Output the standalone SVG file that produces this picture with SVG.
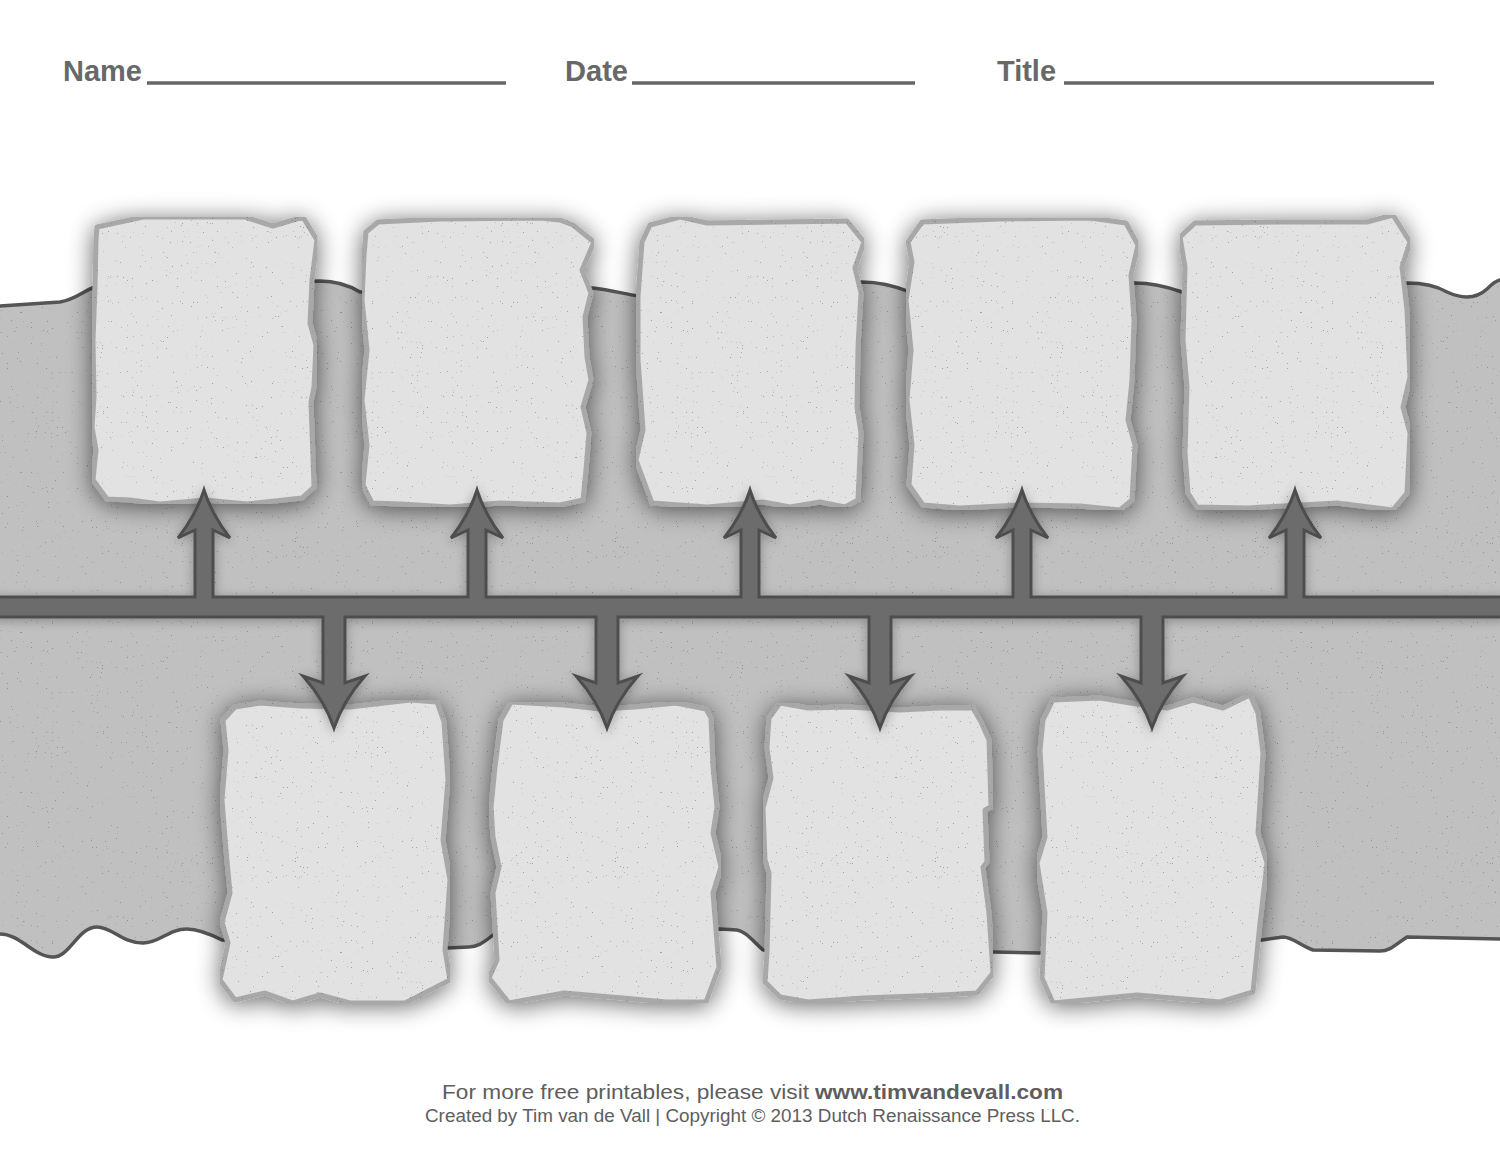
<svg xmlns="http://www.w3.org/2000/svg" width="1500" height="1159" viewBox="0 0 1500 1159">
<style>
.hdr{font-family:"Liberation Sans",Arial,sans-serif;font-weight:bold;font-size:30px;fill:#686868}
.uline{stroke:#666;stroke-width:3.5;fill:none}
.band{fill:#c0c0c0}
.edge{fill:none;stroke:#555;stroke-width:3.5;stroke-linecap:round;stroke-linejoin:round}
.card{fill:#e2e2e2;stroke:#a8a8a8;stroke-width:5;stroke-linejoin:round}
.conn{fill:#6c6c6c;stroke:#4e4e4e;stroke-width:3;stroke-linejoin:miter}
.foot{font-family:"Liberation Sans",Arial,sans-serif;fill:#5e5e5e}
</style>
<defs>
<filter id="shadow" x="-20%" y="-20%" width="140%" height="140%">
<feGaussianBlur in="SourceAlpha" stdDeviation="12"/>
<feOffset dy="3"/>
<feComponentTransfer><feFuncA type="linear" slope="0.6"/></feComponentTransfer>
<feMerge><feMergeNode/><feMergeNode in="SourceGraphic"/></feMerge>
</filter>
<filter id="cshadow" x="-10%" y="-20%" width="120%" height="140%">
<feGaussianBlur in="SourceAlpha" stdDeviation="6"/>
<feOffset dy="2"/>
<feComponentTransfer><feFuncA type="linear" slope="0.3"/></feComponentTransfer>
<feMerge><feMergeNode/><feMergeNode in="SourceGraphic"/></feMerge>
</filter>
<filter id="grain" x="0" y="0" width="100%" height="100%" color-interpolation-filters="sRGB">
<feTurbulence type="fractalNoise" baseFrequency="0.8" numOctaves="2" seed="7" result="noise"/>
<feColorMatrix in="noise" type="matrix" values="0 0 0 0 0.35  0 0 0 0 0.35  0 0 0 0 0.35  -14 0 0 0 3.6" result="dots"/>
<feComponentTransfer in="dots" result="soft"><feFuncA type="linear" slope="0.45"/></feComponentTransfer>
<feComposite in="soft" in2="SourceAlpha" operator="in" result="dotsIn"/>
<feMerge><feMergeNode in="SourceGraphic"/><feMergeNode in="dotsIn"/></feMerge>
</filter>
</defs>

<rect width="1500" height="1159" fill="#ffffff"/>

<g id="header">
<text class="hdr" x="63" y="81" textLength="79" lengthAdjust="spacingAndGlyphs">Name</text>
<line class="uline" x1="147" y1="83" x2="506" y2="83"/>
<text class="hdr" x="565" y="81" textLength="63" lengthAdjust="spacingAndGlyphs">Date</text>
<line class="uline" x1="632" y1="83" x2="915" y2="83"/>
<text class="hdr" x="997" y="81" textLength="59" lengthAdjust="spacingAndGlyphs">Title</text>
<line class="uline" x1="1064" y1="83" x2="1434" y2="83"/>
</g>

<g id="band">
<path class="band" filter="url(#grain)" d="M0,306 L60,302 C75,300 85,290 95,287 L320,281 C330,281 345,283 360,292 L593,288 C610,290 625,294 638,296 L862,282 C880,282 895,286 910,292 L1135,283 C1150,283 1165,286 1182,292 L1407,283 C1420,283 1435,285 1447,292 C1460,298 1475,300 1487,289 C1492,284 1496,281 1500,280 L1500,939 L1453,938 L1407,937 C1395,945 1390,951 1380,951 L1313,950 C1300,945 1292,937 1283,937 L1262,940 L1040,953 L993,952 L763,950 C752,940 745,931 737,930 L721,929 L493,935 C482,944 476,947 469,947 L447,948 L222,940 C208,933 198,929 187,929 C168,929 160,943 143,943 C122,943 112,927 97,927 C78,927 70,957 53,957 C34,957 20,934 0,934 Z"/>
<path class="edge" d="M0,306 L60,302 C75,300 85,290 95,287 L320,281 C330,281 345,283 360,292 L593,288 C610,290 625,294 638,296 L862,282 C880,282 895,286 910,292 L1135,283 C1150,283 1165,286 1182,292 L1407,283 C1420,283 1435,285 1447,292 C1460,298 1475,300 1487,289 C1492,284 1496,281 1500,280"/>
<path class="edge" d="M1500,939 L1453,938 L1407,937 C1395,945 1390,951 1380,951 L1313,950 C1300,945 1292,937 1283,937 L1262,940 L1040,953 L993,952 L763,950 C752,940 745,931 737,930 L721,929 L493,935 C482,944 476,947 469,947 L447,948 L222,940 C208,933 198,929 187,929 C168,929 160,943 143,943 C122,943 112,927 97,927 C78,927 70,957 53,957 C34,957 20,934 0,934"/>
</g>

<g id="card-1" filter="url(#shadow)"><path class="card" filter="url(#grain)" d="M97,227 L143,217 L245,217 L273,226 L303,217 L317,240 L312,280 L310,323 L316,345 L314,387 L311,402 L314,487 L302,498 L247,504 L205,500 L160,504 L130,500 L107,499 L93,480 L96,450 L92,427 L94,397 L93,340 L95,287 L96,240 Z"/></g>
<g id="card-2" filter="url(#shadow)"><path class="card" filter="url(#grain)" d="M366,232 L378,222 L440,219 L540,218 L560,220 L573,225 L594,242 L582,270 L591,293 L585,317 L587,357 L591,380 L583,407 L589,433 L586,470 L583,500 L560,505 L500,503 L450,507 L400,504 L372,503 L363,485 L367,445 L362,400 L367,350 L362,300 L364,255 Z"/></g>
<g id="card-3" filter="url(#shadow)"><path class="card" filter="url(#grain)" d="M650,225 L680,217 L707,223 L847,221 L864,242 L855,268 L861,293 L858,347 L857,407 L861,433 L858,500 L845,507 L820,502 L790,507 L763,502 L707,507 L652,503 L636,460 L643,430 L640,387 L638,360 L638,297 L642,242 Z"/></g>
<g id="card-4" filter="url(#shadow)"><path class="card" filter="url(#grain)" d="M908,242 L922,222 L1000,219 L1090,218 L1126,223 L1138,245 L1131,275 L1134,320 L1132,380 L1128,420 L1135,445 L1132,500 L1120,510 L1080,506 L1020,505 L960,508 L923,505 L909,485 L912,445 L907,400 L911,350 L906,300 L912,262 Z"/></g>
<g id="card-5" filter="url(#shadow)"><path class="card" filter="url(#grain)" d="M1195,223 L1280,222 L1367,222 L1393,215 L1410,242 L1402,267 L1407,310 L1410,377 L1403,407 L1410,433 L1407,493 L1393,510 L1337,503 L1247,508 L1197,507 L1188,493 L1185,453 L1187,387 L1183,340 L1185,267 L1180,237 Z"/></g>
<g id="card-6" filter="url(#shadow)"><path class="card" filter="url(#grain)" d="M223,720 L235,707 L260,703 L300,706 L350,707 L410,700 L437,702 L444,722 L448,780 L443,840 L450,880 L445,950 L450,980 L405,1003 L350,1003 L320,995 L293,1003 L265,993 L235,1000 L220,980 L228,943 L222,922 L230,893 L226,850 L222,800 L226,750 Z"/></g>
<g id="card-7" filter="url(#shadow)"><path class="card" filter="url(#grain)" d="M501,720 L511,702 L564,705 L600,709 L635,707 L676,703 L706,709 L711,718 L713,767 L717,807 L713,833 L721,867 L713,893 L719,967 L706,1002 L666,1002 L623,998 L564,993 L536,998 L509,1003 L489,978 L497,960 L493,893 L499,867 L493,837 L491,807 L495,767 Z"/></g>
<g id="card-8" filter="url(#shadow)"><path class="card" filter="url(#grain)" d="M769,718 L780,703 L808,708 L847,707 L900,710 L940,708 L973,708 L981,722 L989,740 L991,807 L985,810 L987,862 L983,867 L989,913 L993,973 L977,993 L942,995 L863,998 L808,1002 L780,997 L765,982 L767,953 L769,873 L765,860 L763,808 L771,778 L767,748 Z"/></g>
<g id="card-9" filter="url(#shadow)"><path class="card" filter="url(#grain)" d="M1053,700 L1100,698 L1130,703 L1167,708 L1193,700 L1223,708 L1250,695 L1258,713 L1263,753 L1258,833 L1267,863 L1260,923 L1253,992 L1220,1002 L1137,995 L1053,1003 L1042,978 L1045,913 L1037,863 L1045,837 L1040,750 L1043,720 Z"/></g>

<g id="connectors" filter="url(#cshadow)">
<path class="conn" d="M-5,597 L195,597 L195,530 L178,538 Q196,515 204,490 Q212,515 230,538 L213,530 L213,597 L468,597 L468,530 L451,538 Q469,515 477,490 Q485,515 503,538 L486,530 L486,597 L741,597 L741,530 L724,538 Q742,515 750,490 Q758,515 776,538 L759,530 L759,597 L1013,597 L1013,530 L996,538 Q1014,515 1022,490 Q1030,515 1048,538 L1031,530 L1031,597 L1286,597 L1286,530 L1269,538 Q1287,515 1295,490 Q1303,515 1321,538 L1304,530 L1304,597 L1505,597 L1505,617 L1163,617 L1163,683 L1183,676 Q1161,701 1152,728 Q1143,701 1121,676 L1141,683 L1141,617 L891,617 L891,683 L911,676 Q889,701 880,728 Q871,701 849,676 L869,683 L869,617 L618,617 L618,683 L638,676 Q616,701 607,728 Q598,701 576,676 L596,683 L596,617 L345,617 L345,683 L365,676 Q343,701 334,728 Q325,701 303,676 L323,683 L323,617 L-5,617 Z"/>
</g>

<g id="footer">
<text class="foot" x="442" y="1099" font-size="21" textLength="367" lengthAdjust="spacingAndGlyphs">For more free printables, please visit</text>
<text class="foot" x="815" y="1099" font-size="21" font-weight="bold" textLength="248" lengthAdjust="spacingAndGlyphs">www.timvandevall.com</text>
<text class="foot" x="425" y="1122" font-size="17.5" textLength="655" lengthAdjust="spacingAndGlyphs">Created by Tim van de Vall | Copyright © 2013 Dutch Renaissance Press LLC.</text>
</g>
</svg>
